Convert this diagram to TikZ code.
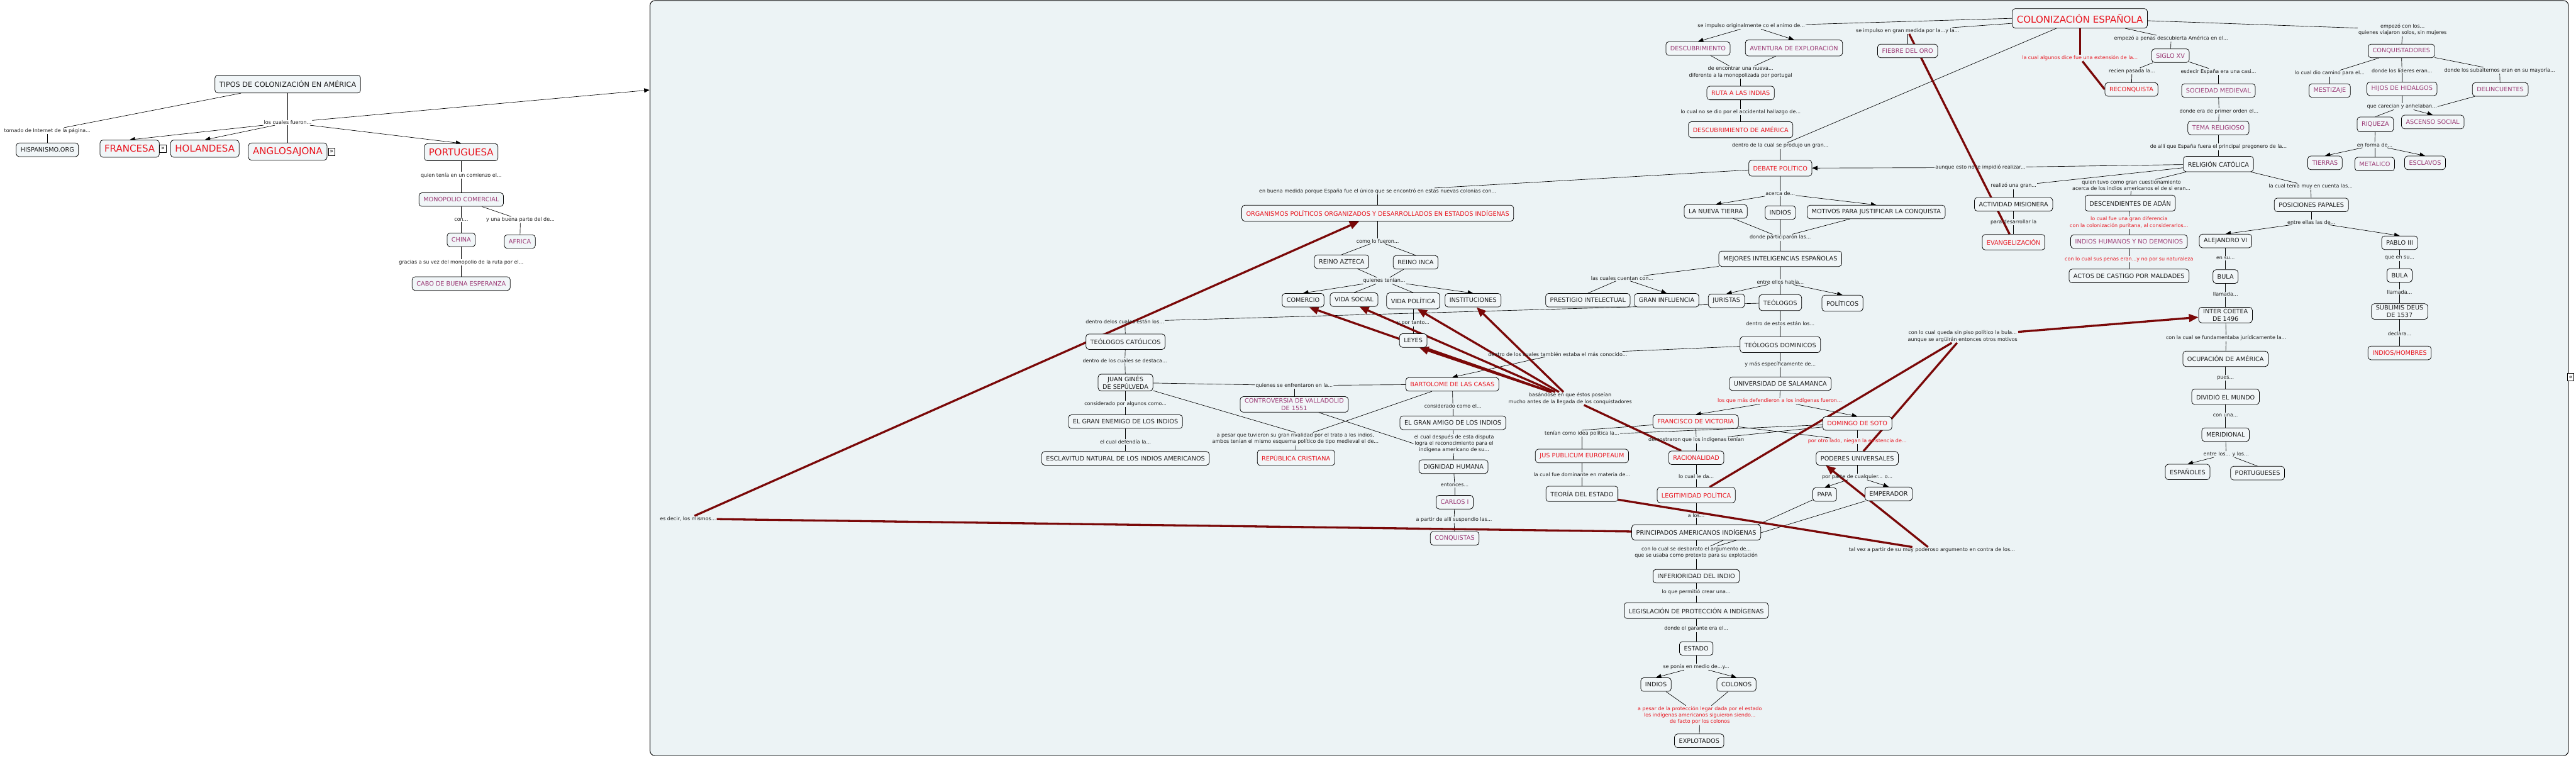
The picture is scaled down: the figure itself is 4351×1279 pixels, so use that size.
\documentclass[tikz,border=0pt]{standalone}
\usepackage{fontspec}
\newfontfamily\dv{DejaVu Sans}
\usetikzlibrary{arrows.meta,calc}
\definecolor{panelbg}{HTML}{ECF3F5}
\definecolor{nodefill}{HTML}{F1F6F8}
\definecolor{txtred}{HTML}{E8141E}
\definecolor{txtpur}{HTML}{9B3A75}
\definecolor{darkred}{HTML}{7A0808}
\definecolor{txtk}{HTML}{1C1C1C}
\pgfdeclarelayer{bg}
\pgfdeclarelayer{lines}
\pgfsetlayers{bg,lines,main}
\newcommand\fnode{\dv\fontsize{10.3}{12.5}\selectfont}
\newcommand\flab{\dv\fontsize{8.5}{11}\selectfont}
\newcommand\fbig{\dv\fontsize{16}{19}\selectfont}
\newcommand\ftit{\dv\fontsize{12}{14}\selectfont}
\newcommand\ficon{\dv\fontsize{10}{10}\selectfont}
\tikzset{
 cn/.style={draw=black, line width=0.8pt, rounded corners=5pt, fill=nodefill, font=\fnode, text=txtk, inner xsep=7.5pt, inner ysep=3pt, minimum height=23pt, align=center},
 cnr/.style={cn, text=txtred},
 cnp/.style={cn, text=txtpur},
 cnb/.style={cn, font=\fbig, text=txtred, minimum height=29pt},
 lb/.style={font=\flab, text=txtk, inner sep=1pt, align=center},
 lbr/.style={lb, text=txtred},
 cl/.style={draw=black, line width=0.7pt},
 ar/.style={cl, -{Triangle[length=9pt,width=7.5pt]}},
 rl/.style={draw=darkred, line width=3.5pt},
 rar/.style={rl, -{Triangle[length=16pt,width=13pt]}},
 icon/.style={draw=black, line width=0.7pt, fill=white, inner sep=0pt, minimum width=11pt, minimum height=13pt, font=\ficon},
}
\begin{document}
\begin{tikzpicture}[x=1pt,y=-1pt]
\useasboundingbox (0,0) rectangle (4351,1279);
\begin{pgfonlayer}{bg}
\fill[white] (0,0) rectangle (4351,1279);
\draw[fill=panelbg, draw=black, line width=1pt, rounded corners=8pt] (1098,1) rectangle (4338,1276);
\end{pgfonlayer}
\coordinate (parr) at (1097,152);
% ---------- left part ----------
\node[cn, font=\ftit, minimum height=30pt] (tipos) at (486,142) {TIPOS DE COLONIZACIÓN EN AMÉRICA};
\node[lb] (l0a) at (80,221) {tomado de Internet de la página...};
\node[cn] (hisp) at (80,253) {HISPANISMO.ORG};
\node[lb] (l0b) at (486,207) {los cuales fueron...};
\node[cnb] (fran) at (219,251) {FRANCESA};
\node[icon] (ic1) at (275,251) {»};
\node[cnb] (hol) at (346,251) {HOLANDESA};
\node[cnb] (anglo) at (486,256) {ANGLOSAJONA};
\node[icon] (ic2) at (560,256) {»};
\node[cnb] (port) at (779,257) {PORTUGUESA};
\node[lb] (l0c) at (779,296) {quien tenía en un comienzo el...};
\node[cnp] (mono) at (779,337) {MONOPOLIO COMERCIAL};
\node[lb] (l0d) at (779,371) {con...};
\node[lb] (l0e) at (879,371) {y una buena parte del de...};
\node[cnp] (china) at (779,405) {CHINA};
\node[cnp] (afr) at (878,408) {AFRICA};
\node[lb] (l0f) at (779,443) {gracias a su vez del monopolio de la ruta por el...};
\node[cnp] (cabo) at (779,479) {CABO DE BUENA ESPERANZA};
% ---------- panel top ----------
\node[cnb, minimum height=33pt] (colo) at (3513,31) {COLONIZACIÓN ESPAÑOLA};
\node[lb] (l1) at (2958,44) {se impulso originalmente co el animo de...};
\node[cnp] (desc) at (2868,82) {DESCUBRIMIENTO};
\node[cnp, minimum height=27pt] (avent) at (3030,81) {AVENTURA DE EXPLORACIÓN};
\node[lb] (l2) at (2940,122) {de encontrar una nueva...\\diferente a la monopolizada por portugal};
\node[cnr] (ruta) at (2940,157) {RUTA A LAS INDIAS};
\node[lb] (l3) at (2940,189) {lo cual no se dio por el accidental hallazgo de...};
\node[cnr, minimum height=27pt] (descam) at (2940,219) {DESCUBRIMIENTO DE AMÉRICA};
\node[lb] (l4) at (3007,246) {dentro de la cual se produjo un gran...};
\node[cnr, minimum height=27pt] (debate) at (3007,284) {DEBATE POLÍTICO};
\node[lb] (l5) at (3222,52) {se impulso en gran medida por la...y la...};
\node[cnp] (fiebre) at (3222,86) {FIEBRE DEL ORO};
\node[lb] (l6) at (3345,283) {aunque esto no le impidió realizar...};
\node[lb] (l7) at (3401,314) {realizó una gran...};
\node[cn] (activ) at (3401,345) {ACTIVIDAD MISIONERA};
\node[lb] (l8) at (3401,375) {para desarrollar la};
\node[cnr, minimum height=26pt] (evang) at (3401,409) {EVANGELIZACIÓN};
\node[lbr] (l9) at (3513,98) {la cual algunos dice fue una extensión de la...};
\node[lb] (l10) at (3667,65) {empezó a penas descubierta América en el...};
\node[cnp] (siglo) at (3666,94) {SIGLO XV};
\node[lb] (l11) at (3601,120) {recien pasada la...};
\node[lb] (l12) at (3747,121) {esdecir España era una casi...};
\node[cnr] (recon) at (3600,151) {RECONQUISTA};
\node[cnp] (socmed) at (3747,153) {SOCIEDAD MEDIEVAL};
\node[lb] (l13) at (3748,188) {donde era de primer orden el...};
\node[cnp] (tema) at (3747,216) {TEMA RELIGIOSO};
\node[lb] (l14) at (3747,248) {de allí que España fuera el principal pregonero de la...};
\node[cn, minimum height=26pt] (relig) at (3747,277) {RELIGIÓN CATÓLICA};
\node[lb] (l15) at (3600,313) {quien tuvo como gran cuestionamiento\\acerca de los indios americanos el de si eran...};
\node[cn, minimum height=27pt] (descad) at (3598,343) {DESCENDIENTES DE ADÁN};
\node[lbr] (l16) at (3596,376) {lo cual fue una gran diferencia\\con la colonización puritana, al considerarlos...};
\node[cnp] (indhum) at (3596,408) {INDIOS HUMANOS Y NO DEMONIOS};
\node[lbr] (l17) at (3596,438) {con lo cual sus penas eran...y no por su naturaleza};
\node[cn] (actos) at (3596,466) {ACTOS DE CASTIGO POR MALDADES};
\node[lb] (l18) at (3903,315) {la cual tenía muy en cuenta las...};
\node[cn] (pospap) at (3904,346) {POSICIONES PAPALES};
\node[lb] (l19) at (3904,375) {entre ellas las de...};
\node[cn] (alej) at (3759,407) {ALEJANDRO VI};
\node[lb] (l20) at (3759,436) {en su...};
\node[cn] (bula1) at (3759,467) {BULA};
\node[lb] (l21) at (3759,497) {llamada...};
\node[cn] (inter) at (3759,532) {INTER COETEA\\DE 1496};
\node[lb] (l22) at (3760,571) {con la cual se fundamentaba jurídicamente la...};
\node[cn, minimum height=26pt] (ocup) at (3759,606) {OCUPACIÓN DE AMÉRICA};
\node[lb] (l23) at (3759,638) {pues...};
\node[cn, minimum height=26pt] (divid) at (3759,670) {DIVIDIÓ EL MUNDO};
\node[lb] (l24) at (3759,701) {con una...};
\node[cn] (merid) at (3759,734) {MERIDIONAL};
\node[lb] (l25) at (3760,767) {entre los... y los...};
\node[cn, minimum height=26pt] (espa) at (3695,797) {ESPAÑOLES};
\node[cn] (portu) at (3813,799) {PORTUGUESES};
\node[cn] (pablo) at (4053,410) {PABLO III};
\node[lb] (l26) at (4053,436) {que en su...};
\node[cn] (bula2) at (4053,465) {BULA};
\node[lb] (l27) at (4053,493) {llamada...};
\node[cn] (subl) at (4053,526) {SUBLIMIS DEUS\\DE 1537};
\node[lb] (l28) at (4053,564) {declara...};
\node[cnr] (indhom) at (4053,596) {INDIOS/HOMBRES};
\node[lb] (l29) at (4058,50) {empezó con los...\\quienes viajaron solos, sin mujeres};
\node[cnp] (conq) at (4056,86) {CONQUISTADORES};
\node[lb] (l30) at (3935,124) {lo cual dio camino para el...};
\node[cnp] (mest) at (3935,153) {MESTIZAJE};
\node[lb] (l31) at (4057,119) {donde los líderes eran...};
\node[cnp] (hijos) at (4057,150) {HIJOS DE HIDALGOS};
\node[lb] (l32) at (4222,119) {donde los subalternos eran en su mayoría...};
\node[cnp] (delin) at (4223,151) {DELINCUENTES};
\node[lb] (l33) at (4057,180) {que carecian y anhelaban...};
\node[cnp, minimum height=25pt] (riq) at (4012,210) {RIQUEZA};
\node[cnp] (asc) at (4109,206) {ASCENSO SOCIAL};
\node[lb] (l34) at (4011,245) {en forma de...};
\node[cnp] (tierras) at (3927,275) {TIERRAS};
\node[cnp] (metal) at (4011,277) {METALICO};
\node[cnp] (escl) at (4096,275) {ESCLAVOS};
% ---------- panel middle ----------
\node[lb] (l35) at (3007,327) {acerca de...};
\node[cn] (nueva) at (2898,357) {LA NUEVA TIERRA};
\node[cn] (indios1) at (3007,359) {INDIOS};
\node[cn] (motiv) at (3169,358) {MOTIVOS PARA JUSTIFICAR LA CONQUISTA};
\node[lb] (l36) at (3007,401) {donde participaron las...};
\node[cn, minimum height=26pt] (mejor) at (3007,437) {MEJORES INTELIGENCIAS ESPAÑOLAS};
\node[lb] (l37) at (2740,470) {las cuales cuentan con...};
\node[cn] (prest) at (2682,507) {PRESTIGIO INTELECTUAL};
\node[cn] (gran) at (2815,507) {GRAN INFLUENCIA};
\node[lb] (l38) at (3007,476) {entre ellos había...};
\node[cn] (jur) at (2916,508) {JURISTAS};
\node[cn, minimum height=27pt] (teol) at (3007,511) {TEÓLOGOS};
\node[cn, minimum height=27pt] (polit) at (3112,512) {POLÍTICOS};
\node[lb] (l39) at (3007,546) {dentro de estos están los...};
\node[cn, minimum height=27pt] (teoldom) at (3007,582) {TEÓLOGOS DOMINICOS};
\node[lb] (l40) at (3007,615) {y más específicamente de...};
\node[cn] (univ) at (3007,648) {UNIVERSIDAD DE SALAMANCA};
\node[lbr] (l41) at (3006,677) {los que más defendieron a los indígenas fueron...};
\node[cnr] (fran2) at (2864,712) {FRANCISCO DE VICTORIA};
\node[cnr] (domin) at (3137,715) {DOMINGO DE SOTO};
\node[lb] (l42) at (2865,743) {demostraron que los indígenas tenían};
\node[cnr] (racio) at (2865,773) {RACIONALIDAD};
\node[lbr] (l43) at (3137,745) {por otro lado, niegan la existencia de...};
\node[cn] (poder) at (3137,774) {PODERES UNIVERSALES};
\node[lb] (l44) at (2865,805) {lo cual le da...};
\node[cnr, minimum height=26pt] (legit) at (2865,836) {LEGITIMIDAD POLÍTICA};
\node[lb] (l45) at (3137,805) {por parte de cualquier... o...};
\node[cn] (papa) at (3082,835) {PAPA};
\node[cn] (emp) at (3190,834) {EMPERADOR};
\node[lb] (l46) at (2865,870) {a los...};
\node[cn, minimum height=26pt] (princ) at (2865,899) {PRINCIPADOS AMERICANOS INDÍGENAS};
\node[lb] (l47) at (2865,933) {con lo cual se desbarato el argumento de...\\que se usaba como pretexto para su explotación};
\node[cn] (infer) at (2865,973) {INFERIORIDAD DEL INDIO};
\node[lb] (l48) at (2865,1000) {lo que permitió crear una...};
\node[cn, minimum height=27pt] (legis) at (2865,1031) {LEGISLACIÓN DE PROTECCIÓN A INDÍGENAS};
\node[lb] (l49) at (2865,1062) {donde el garante era el...};
\node[cn] (estado) at (2865,1095) {ESTADO};
\node[lb] (l50) at (2865,1126) {se ponía en medio de...y...};
\node[cn] (indios2) at (2797,1156) {INDIOS};
\node[cn] (colonos) at (2933,1156) {COLONOS};
\node[lbr] (l51) at (2871,1208) {a pesar de la protección legar dada por el estado\\los indígenas americanos siguieron siendo...\\de facto por los colonos};
\node[cn] (explot) at (2870,1251) {EXPLOTADOS};
\node[lb] (l52) at (3263,929) {tal vez a partir de su muy poderoso argumento en contra de los...};
\node[lb] (l53) at (3315,568) {con lo cual queda sin piso político la bula...\\aunque se argüirán entonces otros motivos};
% ---------- panel left-middle ----------
\node[lb] (l54) at (2327,323) {en buena medida porque España fue el único que se encontró en estas nuevas colonias con...};
\node[cnr, minimum height=27pt] (organ) at (2327,360) {ORGANISMOS POLÍTICOS ORGANIZADOS Y DESARROLLADOS EN ESTADOS INDÍGENAS};
\node[lb] (l55) at (2327,407) {como lo fueron...};
\node[cn] (azteca) at (2266,442) {REINO AZTECA};
\node[cn] (inca) at (2391,443) {REINO INCA};
\node[lb] (l56) at (2338,474) {quienes tenían...};
\node[cn] (comer) at (2201,507) {COMERCIO};
\node[cn] (vsoc) at (2287,506) {VIDA SOCIAL};
\node[cn, minimum height=27pt] (vpol) at (2387,508) {VIDA POLÍTICA};
\node[cn] (instit) at (2488,507) {INSTITUCIONES};
\node[lb] (l57) at (2387,546) {y por tanto...};
\node[cn] (leyes) at (2387,575) {LEYES};
\node[lb] (l58) at (1900,543) {dentro delos cuales están los...};
\node[cn, minimum height=26pt] (teolcat) at (1901,577) {TEÓLOGOS CATÓLICOS};
\node[lb] (l59) at (1900,609) {dentro de los cuales se destaca...};
\node[cn] (juan) at (1901,646) {JUAN GINÉS\\DE SEPÚLVEDA};
\node[lb] (l60) at (1901,682) {considerado por algunos como...};
\node[cn] (enem) at (1901,712) {EL GRAN ENEMIGO DE LOS INDIOS};
\node[lb] (l61) at (1901,746) {el cual defendía la...};
\node[cn] (escl2) at (1901,774) {ESCLAVITUD NATURAL DE LOS INDIOS AMERICANOS};
\node[lb] (l62) at (2631,598) {dentro de los cuales también estaba el más conocido...};
\node[cnr] (bart) at (2453,649) {BARTOLOME DE LAS CASAS};
\node[lb] (l63) at (2186,651) {quienes se enfrentaron en la...};
\node[cnp] (contro) at (2186,683) {CONTROVERSIA DE VALLADOLID\\DE 1551};
\node[lb] (l64) at (2188,741) {a pesar que tuvieron su gran rivalidad por el trato a los indios,\\ambos tenían el mismo esquema político de tipo medieval el de...};
\node[cnr, minimum height=26pt] (repub) at (2189,773) {REPÚBLICA CRISTIANA};
\node[lb] (l65) at (2454,686) {considerado como el...};
\node[cn] (amigo) at (2454,714) {EL GRAN AMIGO DE LOS INDIOS};
\node[lb] (l66) at (2456,749) {el cual después de esta disputa\\logra el reconocimiento para el\\indígena americano de su...};
\node[cn] (dign) at (2455,788) {DIGNIDAD HUMANA};
\node[lb] (l67) at (2457,819) {entonces...};
\node[cnp] (carlos) at (2457,848) {CARLOS I};
\node[lb] (l68) at (2456,878) {a partir de allí suspendio las...};
\node[cnp] (conqs) at (2457,909) {CONQUISTAS};
\node[lb] (l69) at (2652,673) {basándose en que éstos poseían\\mucho antes de la llegada de los conquistadores};
\node[lb] (l70) at (2672,732) {tenían como idea política la...};
\node[cnr] (jus) at (2672,770) {JUS PUBLICUM EUROPEAUM};
\node[lb] (l71) at (2672,802) {la cual fue dominante en materia de...};
\node[cn, minimum height=26pt] (teoria) at (2672,834) {TEORÍA DEL ESTADO};
\node[lb] (l72) at (1162,876) {es decir, los mismos...};
\node[icon] (ic3) at (4342,637) {«};
% ---------- connectors ----------
\begin{pgfonlayer}{lines}
\foreach \a/\b in {tipos/l0a, l0a/hisp, tipos/l0b, l0b/anglo, port/l0c, l0c/mono, mono/l0d, l0d/china, china/l0f, l0f/cabo, mono/l0e, l0e/afr,
  desc/l2, avent/l2, l2/ruta, ruta/l3, l3/descam, colo/l4, l4/debate, l5/fiebre,
  relig/l6, relig/l7, relig/l15, l15/descad, descad/l16, l16/indhum, indhum/l17, l17/actos,
  l7/activ, activ/l8, l8/evang, colo/l10, l10/siglo, siglo/l11, siglo/l12, l11/recon, l12/socmed, socmed/l13, l13/tema, tema/l14, l14/relig,
  relig/l18, l18/pospap, pospap/l19, alej/l20, l20/bula1, bula1/l21, l21/inter, inter/l22, l22/ocup, ocup/l23, l23/divid, divid/l24, l24/merid, merid/l25,
  pablo/l26, l26/bula2, bula2/l27, l27/subl, subl/l28, l28/indhom,
  colo/l29, l29/conq, conq/l30, l30/mest, conq/l31, l31/hijos, conq/l32, l32/delin, hijos/l33, riq/l34, l34/metal,
  debate/l35, l35/indios1, nueva/l36, indios1/l36, motiv/l36, l36/mejor, mejor/l37, mejor/l38, l38/teol, teol/l39, l39/teoldom, teoldom/l40, l40/univ,
  teol/l58, l58/teolcat, teolcat/l59, l59/juan, juan/l60, l60/enem, enem/l61, l61/escl2, teoldom/l62, univ/l41,
  fran2/l42, l42/racio, domin/l42, fran2/l43, domin/l43, l43/poder, l70/jus, jus/l71, l71/teoria,
  racio/l44, l44/legit, legit/l46, l46/princ, poder/l45, papa/l47, emp/l47, princ/l47, l47/infer, infer/l48, l48/legis, legis/l49, l49/estado, estado/l50,
  indios2/l51, colonos/l51, l51/explot,
  debate/l54, l54/organ, organ/l55, azteca/l56, inca/l56, vpol/l57, l57/leyes,
  juan/l63, bart/l63, l63/contro, l64/repub, bart/l65, l65/amigo, amigo/l66, l66/dign, dign/l67, l67/carlos, carlos/l68, l68/conqs}
  {\draw[cl] (\a) -- (\b);}
\draw[cl] (colo.west) -- (l1);
\draw[cl] ($(colo.west)!0.5!(colo.south west)$) -- (l5);
\draw[cl] (delin) -- (l33.east);
\draw[cl] (l33) -- (riq.north);
\draw[cl] (l25) -- (portu.north);
\draw[cl] (l37) -- (prest.north);
\draw[cl] (fran2) -- (l70.north);
\draw[cl] (domin) -- (l70.east);
\draw[cl] (l55) -- (azteca.north);
\draw[cl] (l55) -- (inca.north);
\draw[cl] (l56) -- (vsoc.north);
\draw[cl] (l56) -- (vpol.north);
\draw[cl] (juan) -- (l64.north);
\draw[cl] (bart) -- ([xshift=30pt]l64.north);
\draw[cl] (contro) -- (l66.west);
\foreach \a/\b in {l0b/fran.north, l0b/hol.north, l0b/port.north, l0b/parr,
  l1/desc.north, l1/avent.north, l6/debate, l19/alej.north, l19/pablo.north, l25/espa.north,
  l33/asc.north, l34/tierras.north, l34/escl.north, l35/nueva.north, l35/motiv.north,
  l37/gran.north, l38/jur.north, l38/polit.north, l62/bart.north, l41/fran2.north, l41/domin.north,
  l45/papa.north, l45/emp.north, l50/indios2.north, l50/colonos.north, l56/comer.north, l56/instit.north}
  {\draw[ar] (\a) -- (\b);}
% red links
\draw[rl] (princ) -- (l72);
\draw[rar] (l72) -- (organ);
\draw[rl] (racio) -- (l69);
\draw[rar] (l69) -- ([xshift=10pt]comer.south);
\draw[rar] (l69) -- ([xshift=9pt]vsoc.south);
\draw[rar] (l69) -- ([xshift=7pt]vpol.south);
\draw[rar] (l69) -- ([xshift=6pt]instit.south);
\draw[rar] (l69) -- ([xshift=10pt]leyes.south);
\draw[rl] (teoria) -- (l52);
\draw[rar] (l52) -- ([xshift=-53pt]poder.south);
\draw[rl] (legit) -- (l53);
\draw[rl] (poder) -- (l53);
\draw[rar] (l53) -- (inter);
\draw[rl] (colo) -- (l9);
\draw[rl] (l9) -- (recon.west);
\draw[rl] (l5) -- (evang);
\end{pgfonlayer}
\end{tikzpicture}
\end{document}
